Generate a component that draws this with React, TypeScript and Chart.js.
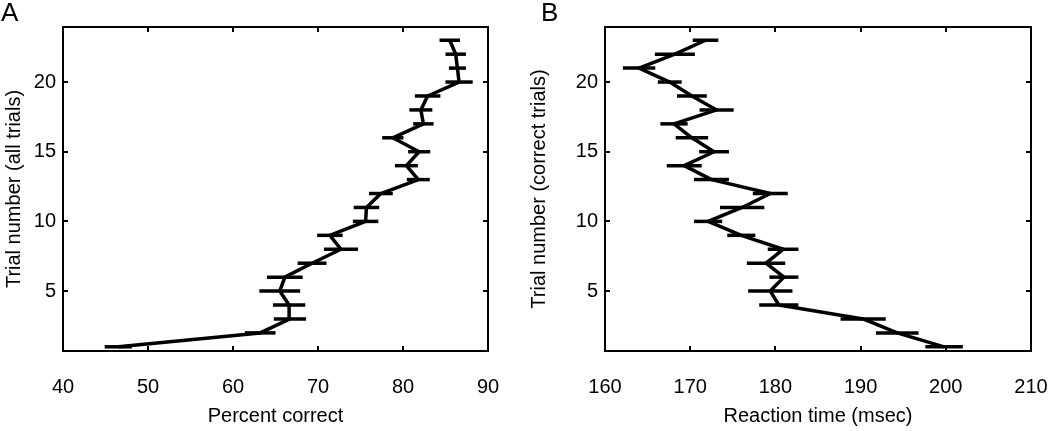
import React, { useEffect, useRef } from "react";
import { Chart, registerables } from "chart.js";

Chart.register(...registerables);

const trials = [1, 2, 3, 4, 5, 6, 7, 8, 9, 10, 11, 12, 13, 14, 15, 16, 17, 18, 19, 20, 21, 22, 23];

const percentCorrect = [46.5, 63.2, 66.7, 66.6, 65.5, 66.1, 69.3, 72.7, 71.4, 75.6, 75.7, 77.4, 81.8, 80.4, 81.9, 78.8, 82.4, 82.1, 82.9, 86.6, 86.4, 86.2, 85.5];
const percentCorrectErr = [1.6, 1.8, 1.9, 1.9, 2.4, 2.1, 1.7, 2.0, 1.5, 1.5, 1.5, 1.4, 1.35, 1.35, 1.3, 1.25, 1.2, 1.35, 1.5, 1.6, 1.0, 1.2, 1.2];

const reactionTime = [199.8, 194.3, 190.3, 180.4, 179.4, 181.0, 178.9, 180.9, 176.0, 172.1, 176.1, 179.4, 172.5, 169.3, 172.8, 170.2, 168.1, 173.1, 170.2, 167.6, 164.0, 168.2, 171.8];
const reactionTimeErr = [2.2, 2.5, 2.65, 2.3, 2.6, 1.7, 2.25, 1.8, 1.65, 1.65, 2.6, 2.05, 2.05, 2.05, 1.75, 1.9, 1.6, 2.0, 1.75, 1.4, 1.9, 2.35, 1.5];

const percentTicks = [40, 50, 60, 70, 80, 90];
const reactionTicks = [160, 170, 180, 190, 200, 210];
const trialTicks = [5, 10, 15, 20];

const FONT = "'Liberation Sans', Arial, sans-serif";

function boxPlugin(xVals: number[], errs: number[], xTicks: number[]) {
  return {
    id: "boxAndErrors",
    beforeDatasetsDraw(chart: any) {
      const ctx = chart.ctx;
      const xs = chart.scales.x;
      const ys = chart.scales.y;
      ctx.save();
      ctx.strokeStyle = "#000";
      ctx.lineWidth = 3.5;
      ctx.lineCap = "butt";
      trials.forEach((t, i) => {
        const y = ys.getPixelForValue(t);
        ctx.beginPath();
        ctx.moveTo(xs.getPixelForValue(xVals[i] - errs[i]), y);
        ctx.lineTo(xs.getPixelForValue(xVals[i] + errs[i]), y);
        ctx.stroke();
      });
      ctx.restore();
    },
    afterDraw(chart: any) {
      const ctx = chart.ctx;
      const { left, right, top, bottom } = chart.chartArea;
      const xs = chart.scales.x;
      const ys = chart.scales.y;
      ctx.save();
      ctx.strokeStyle = "#000";
      ctx.lineWidth = 2;
      ctx.strokeRect(left, top, right - left, bottom - top);
      ctx.beginPath();
      const tl = 5;
      xTicks.forEach((v) => {
        const x = Math.round(xs.getPixelForValue(v));
        ctx.moveTo(x, bottom);
        ctx.lineTo(x, bottom - tl);
        ctx.moveTo(x, top);
        ctx.lineTo(x, top + tl);
      });
      trialTicks.forEach((v) => {
        const y = Math.round(ys.getPixelForValue(v));
        ctx.moveTo(left, y);
        ctx.lineTo(left + tl, y);
        ctx.moveTo(right, y);
        ctx.lineTo(right - tl, y);
      });
      ctx.stroke();
      ctx.restore();
    },
  };
}

function makeConfig(
  xVals: number[],
  errs: number[],
  xTicks: number[],
  xTitle: string,
  yTitle: string,
  yAxisWidth: number,
  rightPad: number
): any {
  const font = { family: FONT, size: 20 };
  return {
    type: "line",
    data: {
      datasets: [
        {
          data: trials.map((t, i) => ({ x: xVals[i], y: t })),
          borderColor: "#000",
          borderWidth: 3.5,
          borderJoinStyle: "round",
          pointRadius: 0,
          fill: false,
          tension: 0,
        },
      ],
    },
    options: {
      animation: false,
      responsive: false,
      maintainAspectRatio: false,
      layout: { padding: { top: 27, right: rightPad, left: 0, bottom: 0 } },
      plugins: { legend: { display: false }, tooltip: { enabled: false } },
      scales: {
        x: {
          type: "linear",
          min: xTicks[0],
          max: xTicks[xTicks.length - 1],
          afterBuildTicks: (s: any) => {
            s.ticks = xTicks.map((v) => ({ value: v }));
          },
          afterFit: (s: any) => {
            s.height = 80;
            s.paddingLeft = 0;
            s.paddingRight = 0;
          },
          grid: { display: false, drawTicks: false },
          border: { display: false },
          ticks: { padding: 24, color: "#000", font, maxRotation: 0 },
          title: { display: true, text: xTitle, color: "#000", font, padding: { top: 0, bottom: 3 } },
        },
        y: {
          type: "linear",
          min: 0.7,
          max: 23.95,
          afterBuildTicks: (s: any) => {
            s.ticks = trialTicks.map((v) => ({ value: v }));
          },
          afterFit: (s: any) => {
            s.width = yAxisWidth;
            s.paddingTop = 0;
            s.paddingBottom = 0;
          },
          grid: { display: false, drawTicks: false },
          border: { display: false },
          ticks: { padding: 7, color: "#000", font },
          title: { display: true, text: yTitle, color: "#000", font, padding: { top: 2, bottom: 0 } },
        },
      },
    },
    plugins: [boxPlugin(xVals, errs, xTicks)],
  };
}

function Panel(props: { config: any; left: number; width: number }) {
  const ref = useRef<HTMLCanvasElement | null>(null);
  useEffect(() => {
    if (!ref.current) return;
    const chart = new Chart(ref.current, props.config);
    return () => chart.destroy();
  }, []);
  return (
    <canvas
      ref={ref}
      width={props.width}
      height={431}
      style={{ position: "absolute", left: props.left, top: 0, width: props.width, height: 431 }}
    />
  );
}

export default function App() {
  const cfgA = makeConfig(percentCorrect, percentCorrectErr, percentTicks, "Percent correct", "Trial number (all trials)", 63, 37);
  const cfgB = makeConfig(reactionTime, reactionTimeErr, reactionTicks, "Reaction time (msec)", "Trial number (correct trials)", 80, 19);
  const labelStyle: React.CSSProperties = {
    position: "absolute",
    top: -3,
    fontFamily: FONT,
    fontSize: 26,
    color: "#000",
    lineHeight: "30px",
  };
  return (
    <div style={{ position: "fixed", left: 0, top: 0, width: 1050, height: 431, background: "#fff", overflow: "hidden" }}>
      <Panel config={cfgA} left={0} width={525} />
      <Panel config={cfgB} left={525} width={525} />
      <div style={{ ...labelStyle, left: 1 }}>A</div>
      <div style={{ ...labelStyle, left: 541 }}>B</div>
    </div>
  );
}
